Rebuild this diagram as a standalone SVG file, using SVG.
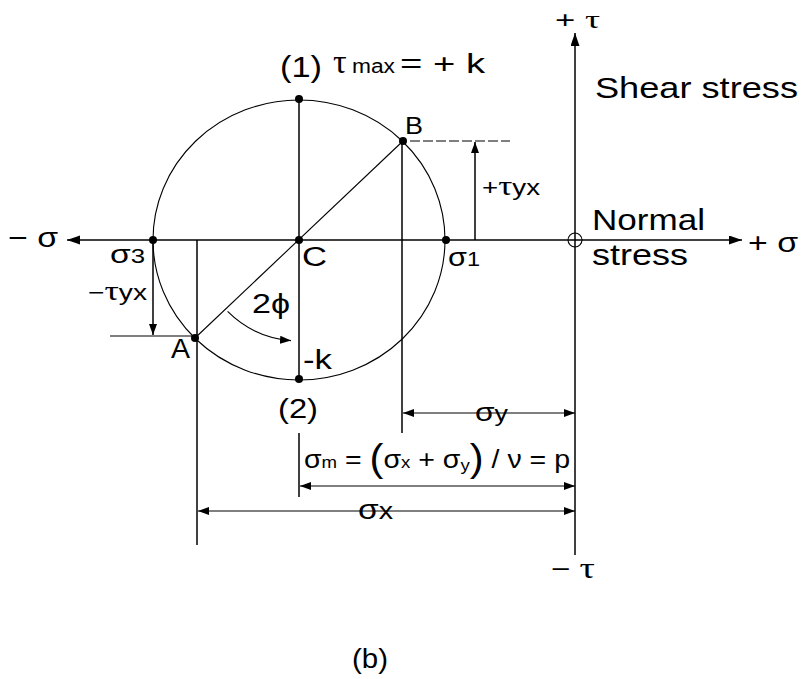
<svg xmlns="http://www.w3.org/2000/svg" width="804" height="679" viewBox="0 0 804 679">
<style>
.t{font-family:"Liberation Sans",Arial,sans-serif;fill:#000}
.g{font-family:"Liberation Serif","Times New Roman",serif;fill:#000}
.ln{stroke:#000;stroke-width:1.5;fill:none}
.thin{stroke:#000;stroke-width:1.1;fill:none}
.dot{fill:#000}
</style>
<defs>
<marker id="ah" markerUnits="userSpaceOnUse" markerWidth="14" markerHeight="10" refX="13" refY="4.5" orient="auto-start-reverse">
<path d="M0,0 L13,4.5 L0,9 z" fill="#000"/>
</marker>
<marker id="sa" markerUnits="userSpaceOnUse" markerWidth="12" markerHeight="9" refX="11" refY="4" orient="auto-start-reverse">
<path d="M0,0 L11,4 L0,8 z" fill="#000"/>
</marker>
</defs>
<rect width="804" height="679" fill="#fff"/>

<g id="connectors">
<line class="ln" x1="742" y1="240" x2="67" y2="240" marker-end="url(#ah)" marker-start="url(#ah)"/>
<line class="ln" x1="575" y1="555" x2="575" y2="33" marker-end="url(#ah)"/>
<circle cx="575" cy="240" r="7" class="thin"/>
<ellipse cx="299" cy="240" rx="146" ry="140" class="thin"/>
<line class="thin" x1="195" y1="338" x2="403" y2="141"/>
<line class="ln" x1="299" y1="99" x2="299" y2="379"/>
<line class="ln" x1="402" y1="141" x2="402" y2="433"/>
<line class="thin" x1="410" y1="141" x2="510" y2="141" stroke-dasharray="10,3"/>
<line class="ln" x1="475" y1="240" x2="475" y2="142" marker-end="url(#sa)"/>
<line class="ln" x1="197" y1="240" x2="197" y2="545"/>
<line class="thin" x1="110" y1="336" x2="195" y2="336"/>
<line class="ln" x1="153" y1="240" x2="153" y2="335" marker-end="url(#sa)"/>
<path class="thin" d="M227.6,311.4 A101,101 0 0 0 291,340.6" marker-end="url(#sa)"/>
<line class="thin" x1="403" y1="413" x2="575" y2="413" marker-start="url(#sa)" marker-end="url(#sa)"/>
<line class="ln" x1="299" y1="433" x2="299" y2="497"/>
<line class="thin" x1="300" y1="486" x2="575" y2="486" marker-start="url(#sa)" marker-end="url(#sa)"/>
<line class="thin" x1="198" y1="511" x2="575" y2="511" marker-start="url(#sa)" marker-end="url(#sa)"/>
</g>

<g id="points">
<circle class="dot" cx="299" cy="99" r="4"/>
<circle class="dot" cx="299" cy="240" r="4"/>
<circle class="dot" cx="299" cy="379" r="4"/>
<circle class="dot" cx="153" cy="240" r="4"/>
<circle class="dot" cx="446" cy="240" r="4"/>
<circle class="dot" cx="403" cy="141" r="4"/>
<circle class="dot" cx="195" cy="338" r="4"/>
</g>

<g id="labels">
<text class="t" x="555" y="28" font-size="24" textLength="45" lengthAdjust="spacingAndGlyphs">+ <tspan class="g" font-size="26">τ</tspan></text>
<text class="t" x="280" y="77" font-size="29" textLength="42" lengthAdjust="spacingAndGlyphs">(1)</text>
<text class="g" x="333" y="73" font-size="34">τ</text>
<text class="t" x="352" y="73" font-size="20" textLength="43" lengthAdjust="spacingAndGlyphs">max</text>
<text class="t" x="400" y="73" font-size="28" textLength="85" lengthAdjust="spacingAndGlyphs">= + k</text>
<text class="t" x="595" y="98" font-size="29" textLength="203" lengthAdjust="spacingAndGlyphs">Shear stress</text>
<text class="t" x="405" y="134" font-size="24" textLength="18" lengthAdjust="spacingAndGlyphs">B</text>
<text class="t" x="482" y="195" font-size="22" textLength="58" lengthAdjust="spacingAndGlyphs">+<tspan class="g" font-size="28">τ</tspan>yx</text>
<text class="t" x="592" y="230" font-size="30" textLength="113" lengthAdjust="spacingAndGlyphs">Normal</text>
<text class="t" x="592" y="265" font-size="30" textLength="96" lengthAdjust="spacingAndGlyphs">stress</text>
<text class="t" x="8" y="247" font-size="28" textLength="50" lengthAdjust="spacingAndGlyphs">− σ</text>
<text class="t" x="748" y="252" font-size="28" textLength="50" lengthAdjust="spacingAndGlyphs">+ σ</text>
<text class="t" x="110" y="263" font-size="26" textLength="35" lengthAdjust="spacingAndGlyphs">σ<tspan font-size="20">3</tspan></text>
<text class="t" x="302" y="266" font-size="27" textLength="25" lengthAdjust="spacingAndGlyphs">C</text>
<text class="t" x="448" y="266" font-size="26" textLength="32" lengthAdjust="spacingAndGlyphs">σ<tspan font-size="20">1</tspan></text>
<text class="t" x="88" y="300" font-size="22" textLength="59" lengthAdjust="spacingAndGlyphs">−<tspan class="g" font-size="28">τ</tspan>yx</text>
<text class="t" x="252" y="313" font-size="28" textLength="38" lengthAdjust="spacingAndGlyphs">2ϕ</text>
<text class="t" x="171" y="358" font-size="27" textLength="19" lengthAdjust="spacingAndGlyphs">A</text>
<text class="t" x="303" y="369" font-size="28" textLength="29" lengthAdjust="spacingAndGlyphs">-k</text>
<text class="t" x="278" y="418" font-size="27" textLength="40" lengthAdjust="spacingAndGlyphs">(2)</text>
<text class="t" x="475" y="421" font-size="26" textLength="33" lengthAdjust="spacingAndGlyphs">σ<tspan font-size="22">y</tspan></text>
<text class="t" x="304" y="468" font-size="26" textLength="266" lengthAdjust="spacingAndGlyphs">σ<tspan font-size="17">m</tspan> = <tspan font-size="38" dy="3">(</tspan><tspan dy="-3">σ</tspan><tspan font-size="17">x</tspan> + σ<tspan font-size="17" dy="3">y</tspan><tspan font-size="38">)</tspan><tspan dy="-3"> / ν = p</tspan></text>
<text class="t" x="358" y="519" font-size="28" textLength="35" lengthAdjust="spacingAndGlyphs">σ<tspan font-size="24">x</tspan></text>
<text class="t" x="551" y="578" font-size="26" textLength="44" lengthAdjust="spacingAndGlyphs">− <tspan class="g" font-size="30">τ</tspan></text>
<text class="t" x="352" y="668" font-size="27" textLength="36" lengthAdjust="spacingAndGlyphs">(b)</text>
</g>
</svg>
